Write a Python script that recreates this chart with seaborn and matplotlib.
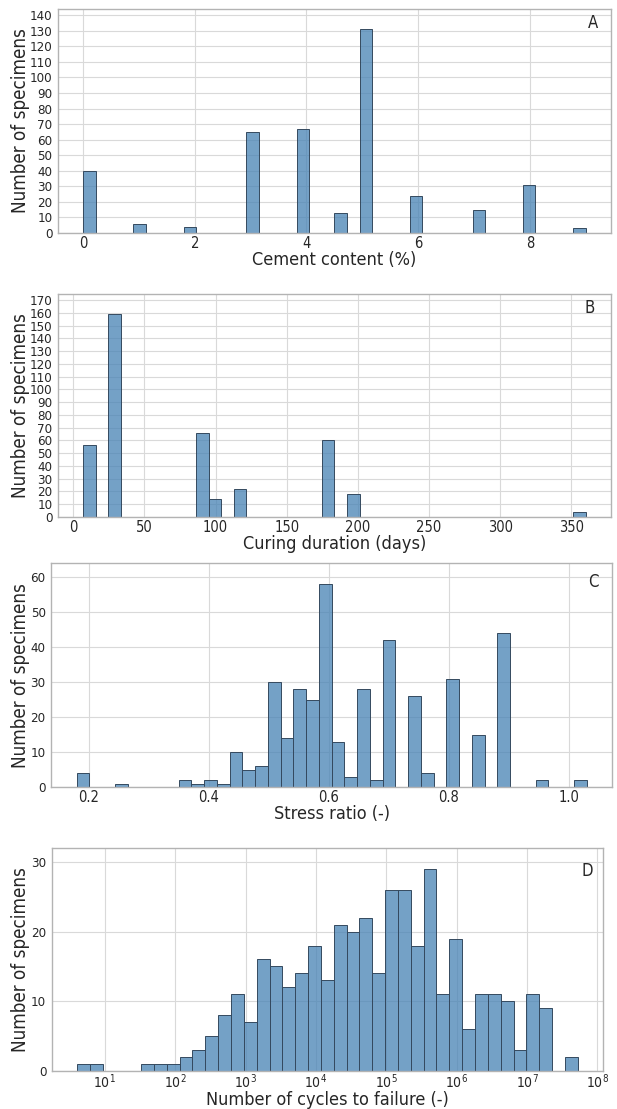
import numpy as np
import pandas as pd
import matplotlib
matplotlib.use("Agg")
import matplotlib.pyplot as plt
from matplotlib.ticker import MultipleLocator, NullFormatter, LogLocator
import seaborn as sns

# A - cement content (%)
cement_values = [0, 1, 2, 3, 4, 4.5, 5, 6, 7, 8, 9]
cement_counts = [40, 6, 4, 65, 67, 13, 131, 24, 15, 31, 3]

# B - curing duration (days)
curing_values = [7, 28, 90, 100, 120, 180, 200, 360]
curing_counts = [56, 159, 66, 14, 22, 60, 18, 4]

# C - stress ratio (-)
stress_values = [0.18, 0.25, 0.36, 0.38, 0.40, 0.42, 0.45, 0.47, 0.49, 0.50,
                 0.53, 0.55, 0.57, 0.60, 0.61, 0.63, 0.65, 0.68, 0.70, 0.75,
                 0.76, 0.80, 0.85, 0.90, 0.95, 1.03]
stress_counts = [4, 1, 2, 1, 2, 1, 10, 5, 6, 30,
                 14, 28, 25, 58, 13, 3, 28, 2, 42, 26,
                 4, 31, 15, 44, 2, 2]

# D - number of cycles to failure (-)
cycles_values = [5, 7.5, 40, 60, 95, 140, 220, 330, 500, 770,
                 1200, 1800, 2700, 4100, 6300, 9500, 14500, 22000, 34000, 51000,
                 78000, 1.2e5, 1.8e5, 2.75e5, 4.2e5, 6.4e5, 9.7e5, 1.5e6, 2.25e6, 3.4e6,
                 5.2e6, 7.9e6, 1.2e7, 1.85e7, 4.3e7]
cycles_counts = [1, 1, 1, 1, 1, 2, 3, 5, 8, 11,
                 7, 16, 15, 12, 14, 18, 13, 21, 20, 22,
                 14, 26, 26, 18, 29, 11, 19, 6, 11, 11,
                 10, 3, 11, 9, 2]
cycles_range = (4, 5.25e7)

sns.set_style("whitegrid", {"axes.edgecolor": ".7", "grid.color": ".85"})
plt.rcParams["font.family"] = ["DejaVu Sans"]
plt.rcParams["font.stretch"] = "condensed"

fig = plt.figure(figsize=(6.17, 11.09), dpi=100)
axes = [
    fig.add_axes([0.094, 0.790, 0.896, 0.202]),
    fig.add_axes([0.094, 0.534, 0.896, 0.201]),
    fig.add_axes([0.083, 0.290, 0.909, 0.202]),
    fig.add_axes([0.084, 0.034, 0.893, 0.201]),
]

bar_kws = dict(color="steelblue", alpha=0.75, edgecolor="#34495e", linewidth=0.7)

panels = [
    (pd.DataFrame({"v": cement_values, "n": cement_counts}), "Cement content (%)", "A", (0.967, 0.937)),
    (pd.DataFrame({"v": curing_values, "n": curing_counts}), "Curing duration (days)", "B", (0.961, 0.937)),
    (pd.DataFrame({"v": stress_values, "n": stress_counts}), "Stress ratio (-)", "C", (0.966, 0.915)),
    (pd.DataFrame({"v": cycles_values, "n": cycles_counts}), "Number of cycles to failure (-)", "D", (0.972, 0.897)),
]

for ax, (df, xlabel, letter, pos) in zip(axes, panels):
    if letter == "C":
        sns.histplot(data=df, x="v", weights="n", bins=40, binrange=(0.18, 1.03), ax=ax, **bar_kws)
    elif letter == "D":
        # bins defined in log10 space
        sns.histplot(data=df, x="v", weights="n", bins=39, log_scale=True,
                     binrange=(np.log10(cycles_range[0]), np.log10(cycles_range[1])),
                     ax=ax, **bar_kws)
        ax.set_xticks([10.0 ** k for k in range(1, 9)])
        ax.xaxis.set_minor_locator(LogLocator(base=10, subs=np.arange(2, 10)))
        ax.xaxis.set_minor_formatter(NullFormatter())
    else:
        sns.histplot(data=df, x="v", weights="n", bins=40, ax=ax, **bar_kws)

    ax.set_ylim(0, max(df["n"]) * 1.1)
    ax.yaxis.set_major_locator(MultipleLocator(10))
    ax.set_xlabel(xlabel, fontsize=13)
    ax.set_ylabel("Number of specimens", fontsize=13.5)

    # label positions in pixels relative to the axes box
    bbox = ax.get_position()
    w_px = bbox.width * 617
    h_px = bbox.height * 1109
    left_px = bbox.x0 * 617
    ax.xaxis.set_label_coords(0.5, -(29 if letter == "D" else 27) / h_px)
    ax.xaxis.label.set_va("center")
    ax.yaxis.set_label_coords((21 - left_px) / w_px, 0.5)
    ax.yaxis.label.set_va("center")

    ax.tick_params(axis="x", labelsize=10 if letter == "D" else 10.5, length=0,
                   pad=1 if letter == "D" else 2)
    ax.tick_params(axis="y", labelsize=9.5, length=3, color=".7", pad=1)
    ax.tick_params(axis="x", which="minor", length=2, color=".7")
    for s in ax.spines.values():
        s.set_linewidth(1.0)
    ax.text(pos[0], pos[1], letter, transform=ax.transAxes, ha="center", va="center", fontsize=12)

fig.savefig("out.png", dpi=100)
